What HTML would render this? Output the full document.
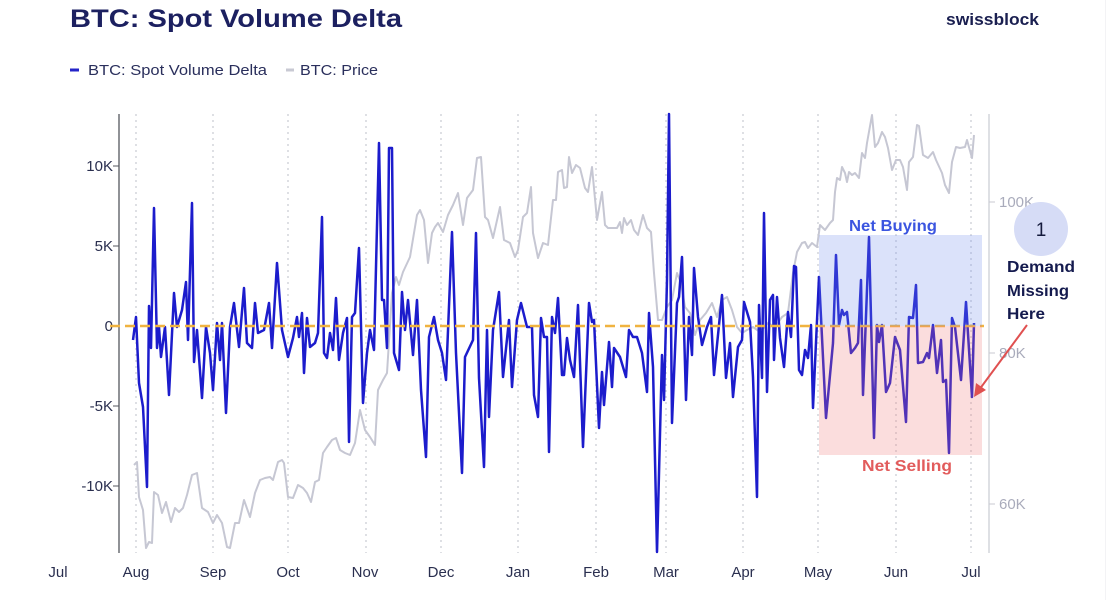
<!DOCTYPE html>
<html>
<head>
<meta charset="utf-8">
<style>
html,body{margin:0;padding:0;background:#fff;}
svg{display:block;}
text{font-family:"Liberation Sans",sans-serif;}
</style>
</head>
<body>
<svg width="1107" height="600" viewBox="0 0 1107 600" xmlns="http://www.w3.org/2000/svg">
<rect width="1107" height="600" fill="#fff"/>
<!-- header -->
<text x="70" y="27" font-size="25" font-weight="bold" fill="#1c2060" textLength="332" lengthAdjust="spacingAndGlyphs">BTC: Spot Volume Delta</text>
<text x="946" y="25" font-size="17" font-weight="bold" fill="#1a1f50" textLength="93" lengthAdjust="spacingAndGlyphs">swissblock</text>
<line x1="1105.5" y1="0" x2="1105.5" y2="600" stroke="#f3f3f5" stroke-width="1"/>
<!-- legend -->
<line x1="70" y1="70" x2="79" y2="70" stroke="#2424c8" stroke-width="3"/>
<text x="88" y="75" font-size="15" fill="#2a2f5c" textLength="179" lengthAdjust="spacingAndGlyphs">BTC: Spot Volume Delta</text>
<line x1="286" y1="70" x2="294" y2="70" stroke="#c8c9d3" stroke-width="3"/>
<text x="300" y="75" font-size="15" fill="#2a2f5c" textLength="78" lengthAdjust="spacingAndGlyphs">BTC: Price</text>

<!-- gridlines -->
<g stroke="#c9cad2" stroke-width="1.2" stroke-dasharray="2,4">
<line x1="136" y1="114" x2="136" y2="553"/>
<line x1="213" y1="114" x2="213" y2="553"/>
<line x1="288" y1="114" x2="288" y2="553"/>
<line x1="366" y1="114" x2="366" y2="553"/>
<line x1="441" y1="114" x2="441" y2="553"/>
<line x1="518" y1="114" x2="518" y2="553"/>
<line x1="596" y1="114" x2="596" y2="553"/>
<line x1="666" y1="114" x2="666" y2="553"/>
<line x1="743" y1="114" x2="743" y2="553"/>
<line x1="818" y1="114" x2="818" y2="553"/>
<line x1="896" y1="114" x2="896" y2="553"/>
<line x1="971" y1="114" x2="971" y2="553"/>
</g>

<!-- axes -->
<line x1="119" y1="114" x2="119" y2="553" stroke="#55575f" stroke-width="1.3"/>
<line x1="989" y1="114" x2="989" y2="553" stroke="#d4d5dc" stroke-width="1.5"/>
<g stroke="#55575f" stroke-width="1">
<line x1="113" y1="166" x2="119" y2="166"/>
<line x1="113" y1="246" x2="119" y2="246"/>
<line x1="113" y1="326" x2="119" y2="326"/>
<line x1="113" y1="406" x2="119" y2="406"/>
<line x1="113" y1="486" x2="119" y2="486"/>
</g>
<g font-size="15" fill="#2a2f4f" text-anchor="end">
<text x="113" y="171">10K</text>
<text x="113" y="251">5K</text>
<text x="113" y="331">0</text>
<text x="113" y="411">-5K</text>
<text x="113" y="491">-10K</text>
</g>
<g stroke="#c8c9d2" stroke-width="1">
<line x1="989" y1="202" x2="995" y2="202"/>
<line x1="989" y1="353" x2="995" y2="353"/>
<line x1="989" y1="504" x2="995" y2="504"/>
</g>
<g font-size="15" fill="#a9abbb">
<text x="999" y="207">100K</text>
<text x="999" y="358">80K</text>
<text x="999" y="509">60K</text>
</g>
<g font-size="15" fill="#2a2f4f" text-anchor="middle">
<text x="58" y="577">Jul</text>
<text x="136" y="577">Aug</text>
<text x="213" y="577">Sep</text>
<text x="288" y="577">Oct</text>
<text x="365" y="577">Nov</text>
<text x="441" y="577">Dec</text>
<text x="518" y="577">Jan</text>
<text x="596" y="577">Feb</text>
<text x="666" y="577">Mar</text>
<text x="743" y="577">Apr</text>
<text x="818" y="577">May</text>
<text x="896" y="577">Jun</text>
<text x="971" y="577">Jul</text>
</g>

<!-- price -->
<polyline fill="none" stroke="#c6c7d3" stroke-width="2" stroke-linejoin="round" points="134,465 137,462 139,497 143,510 146,548 149,542 152,543 154,492 158,495 162,513 166,502 171,522 175,508 179,512 183,508 187,495 192,475 197,473 202,508 208,512 213,523 217,515 222,523 227,547 230,548 235,523 239,523 244,500 250,517 255,493 260,480 265,478 270,477 273,480 278,462 282,460 284,463 288,497 293,498 298,485 303,488 307,493 311,502 315,482 319,480 323,453 327,447 332,440 336,438 340,450 345,453 350,455 355,443 360,410 365,430 370,437 375,445 378,390 383,380 387,373 392,293 396,277 399,285 403,272 410,257 417,215 420,210 424,220 428,263 432,233 435,227 438,223 443,232 448,215 453,205 458,193 463,225 467,198 473,190 477,158 481,157 485,217 488,220 493,238 500,207 504,240 510,243 515,257 518,250 523,217 527,213 531,187 533,233 538,258 543,243 548,245 553,200 556,200 558,172 562,170 564,188 567,187 569,157 572,173 576,165 580,168 585,188 588,192 592,167 597,220 602,192 605,225 608,228 617,228 620,222 622,233 624,218 627,225 631,220 634,230 638,235 643,215 647,228 651,232 654,273 658,320 662,320 667,307 672,300 677,273 681,283 685,307 690,313 695,335 700,320 706,313 712,303 717,317 722,300 727,297 732,310 737,327 742,333 747,330 753,327 760,332 768,323 775,327 782,317 788,313 793,273 797,252 802,243 805,242 808,248 812,243 817,247 820,225 825,230 830,223 833,220 835,192 837,178 840,180 842,167 845,173 847,182 849,172 852,175 855,173 859,178 862,153 865,158 867,143 872,115 875,147 878,143 882,132 885,137 888,148 892,170 896,160 900,160 903,167 907,190 909,162 913,157 917,125 919,126 923,155 928,158 933,152 936,160 942,173 945,185 949,193 952,162 956,147 960,148 965,147 967,140 972,158 974,135"/>

<!-- volume delta -->
<polyline fill="none" stroke="#1c1ccc" stroke-width="2.5" stroke-linejoin="round" points="133,340 136,317 139,383 143,407 147,487 149,306 151,348 154,208 157,348 159,327 161,357 165,327 169,395 174,293 177,327 182,310 186,282 188,340 192,203 194,362 197,330 202,398 206,327 210,353 213,390 217,323 220,360 222,323 226,413 230,327 234,303 239,347 244,288 247,343 252,348 255,303 258,333 264,330 269,303 272,348 277,263 282,330 288,357 293,338 297,317 299,337 302,313 304,373 307,318 310,347 315,343 318,333 322,217 324,353 327,358 330,333 333,350 336,298 339,360 343,333 347,318 349,442 352,317 355,313 359,248 363,403 367,353 370,330 374,350 379,143 382,300 384,300 387,348 389,148 392,148 394,353 399,370 402,292 405,330 408,300 413,355 417,300 421,390 426,457 429,337 434,317 438,340 442,353 446,380 452,232 456,353 462,473 465,357 473,340 476,233 479,378 484,467 487,330 489,417 493,330 499,292 503,377 509,320 512,387 517,320 521,303 527,327 532,327 534,395 538,417 541,318 544,337 547,337 549,452 552,317 555,333 558,298 562,375 564,375 567,338 570,360 574,377 578,305 583,447 589,303 592,322 594,320 599,428 602,372 604,405 609,342 612,387 614,348 620,357 623,367 626,377 629,330 633,337 637,337 642,353 647,392 649,313 653,367 657,552 662,355 664,400 667,280 669,114 672,423 677,303 679,297 682,257 686,400 689,317 692,355 694,268 698,317 702,345 707,327 711,317 714,375 722,295 726,378 730,343 733,397 738,347 742,340 744,302 750,322 753,377 757,497 759,305 762,378 764,213 767,392 770,300 773,295 774,360 777,297 780,338 784,367 788,312 791,337 794,266 796,267 799,370 802,375 805,350 808,358 811,325 813,408 819,277 826,418 833,343 836,255 839,325 842,310 844,315 847,312 851,353 855,348 858,343 861,280 863,395 869,237 874,438 877,325 879,342 882,325 886,392 890,383 895,337 900,350 906,422 909,317 913,318 916,285 918,363 923,362 927,353 929,358 933,325 937,373 941,340 943,382 946,380 949,453 952,318 955,327 961,380 966,302 972,397 974,323"/>

<!-- zero dashed line -->
<line x1="110" y1="326" x2="984" y2="326" stroke="#f0b340" stroke-width="2.5" stroke-dasharray="10,5"/>

<!-- shaded regions -->
<rect x="819" y="235" width="163" height="91" fill="rgb(110,140,235)" fill-opacity="0.25"/>
<rect x="819" y="326" width="163" height="129" fill="rgb(240,120,120)" fill-opacity="0.25"/>
<text x="849" y="231" font-size="15.5" font-weight="bold" fill="#3b55e0" textLength="88" lengthAdjust="spacingAndGlyphs">Net Buying</text>
<text x="862" y="471" font-size="15.5" font-weight="bold" fill="#e25c5c" textLength="90" lengthAdjust="spacingAndGlyphs">Net Selling</text>

<!-- annotation -->
<circle cx="1041" cy="229" r="27" fill="#d6dcf6"/>
<text x="1041" y="236" font-size="19" fill="#141a3c" text-anchor="middle">1</text>
<g font-size="16" font-weight="bold" fill="#141a4e">
<text x="1007" y="272" textLength="68" lengthAdjust="spacingAndGlyphs">Demand</text>
<text x="1007" y="296" textLength="62" lengthAdjust="spacingAndGlyphs">Missing</text>
<text x="1007" y="319" textLength="38" lengthAdjust="spacingAndGlyphs">Here</text>
</g>
<line x1="1027" y1="325" x2="979" y2="390" stroke="#e05050" stroke-width="2"/>
<polygon points="974,397 976,383 986,390" fill="#e05050"/>
</svg>
</body>
</html>
